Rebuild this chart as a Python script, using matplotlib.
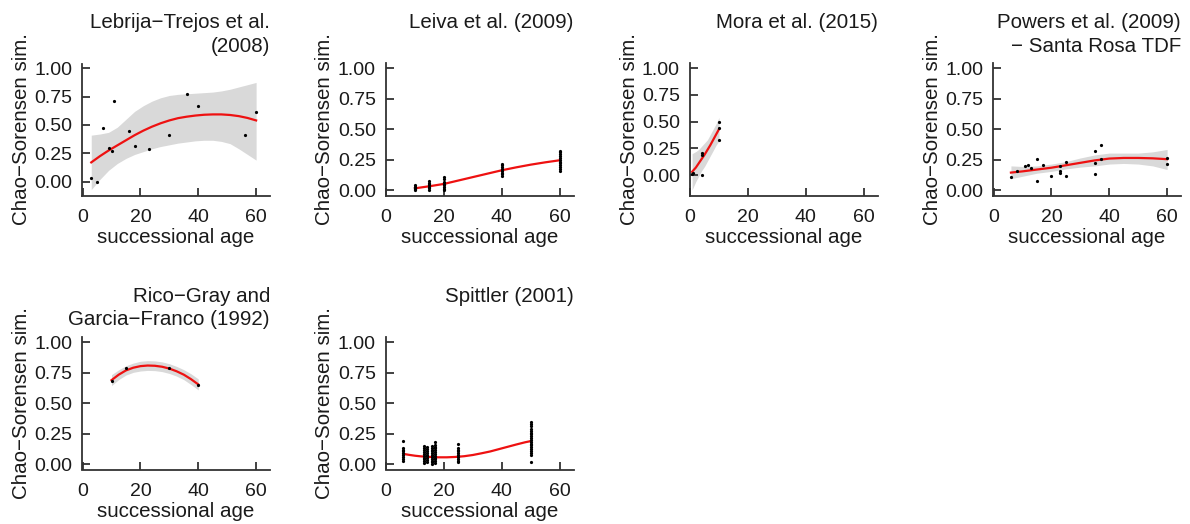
"""
Chao-Sorensen similarity vs successional age, one panel per study.
"""
import matplotlib
matplotlib.use("Agg")
import matplotlib.pyplot as plt

plt.rcParams['font.family'] = ['Liberation Sans', 'DejaVu Sans']

# ---- data ------------------------------------------------------------------
# Lebrija-Trejos et al. (2008)
lebrija_age = [3, 5, 7, 9, 10, 11, 16, 18, 23, 30, 36, 40, 56, 60]
lebrija_sim = [0.03, 0.0, 0.47, 0.30, 0.27, 0.71, 0.445, 0.315, 0.285,
               0.41, 0.775, 0.665, 0.41, 0.615]
lebrija_fit_x = [3, 6, 9, 12, 15, 18, 21, 24, 27, 30, 33, 36, 39, 42, 45,
                 48, 51, 54, 57, 60]
lebrija_fit = [0.17, 0.225, 0.275, 0.32, 0.365, 0.41, 0.45, 0.485, 0.515,
               0.54, 0.56, 0.573, 0.583, 0.59, 0.593, 0.593, 0.588, 0.578,
               0.562, 0.54]
lebrija_hi = [0.41, 0.42, 0.435, 0.48, 0.55, 0.62, 0.67, 0.71, 0.74, 0.76,
              0.77, 0.775, 0.78, 0.785, 0.79, 0.80, 0.815, 0.835, 0.855, 0.875]
lebrija_lo = [-0.07, 0.02, 0.10, 0.16, 0.205, 0.24, 0.265, 0.29, 0.31, 0.325,
              0.34, 0.35, 0.36, 0.365, 0.365, 0.355, 0.335, 0.29, 0.24, 0.19]

# Leiva et al. (2009): one column of values per age
leiva_ages = [10, 15, 20, 40, 60]
leiva_sims = [
    [0.0, 0.01, 0.015, 0.02, 0.025, 0.03, 0.04],
    [0.0, 0.015, 0.03, 0.04, 0.05, 0.06, 0.075],
    [0.0, 0.01, 0.025, 0.04, 0.055, 0.07, 0.09, 0.11],
    [0.115, 0.13, 0.145, 0.16, 0.175, 0.19, 0.205, 0.215],
    [0.16, 0.175, 0.19, 0.205, 0.22, 0.235, 0.25, 0.265, 0.28, 0.295, 0.31, 0.32],
]
leiva_fit_x = [10, 15, 20, 25, 30, 35, 40, 45, 50, 55, 60]
leiva_fit = [0.016, 0.033, 0.052, 0.08, 0.108, 0.136, 0.164, 0.188, 0.21,
             0.229, 0.246]

# Mora et al. (2015)
mora_age = [0.7, 1.0, 4, 4, 4, 10, 10, 10]
mora_sim = [0.01, 0.02, 0.0, 0.19, 0.21, 0.33, 0.44, 0.50]
mora_fit_x = [0.7, 2, 3, 4, 5, 6, 7, 8, 9, 10]
mora_fit = [0.03, 0.07, 0.11, 0.15, 0.19, 0.235, 0.28, 0.33, 0.38, 0.43]
mora_hi = [0.20, 0.22, 0.24, 0.27, 0.30, 0.33, 0.38, 0.43, 0.48, 0.54]
mora_lo = [-0.14, -0.06, -0.01, 0.04, 0.08, 0.13, 0.18, 0.23, 0.28, 0.32]

# Powers et al. (2009) - Santa Rosa TDF
powers_age = [6, 8, 11, 12, 13, 15, 15, 17, 20, 23, 23, 23, 25, 25,
              35, 35, 35, 37, 37, 60, 60]
powers_sim = [0.11, 0.16, 0.195, 0.205, 0.18, 0.26, 0.08, 0.21, 0.12, 0.2,
              0.16, 0.145, 0.235, 0.12, 0.325, 0.225, 0.135, 0.37, 0.26,
              0.265, 0.215]
powers_fit_x = [6, 10, 15, 20, 25, 30, 35, 40, 45, 50, 55, 60]
powers_fit = [0.145, 0.155, 0.17, 0.185, 0.205, 0.225, 0.245, 0.26, 0.265,
              0.265, 0.262, 0.255]
powers_hi = [0.20, 0.195, 0.20, 0.215, 0.235, 0.265, 0.29, 0.305, 0.305,
             0.305, 0.315, 0.335]
powers_lo = [0.095, 0.115, 0.14, 0.155, 0.175, 0.19, 0.20, 0.215, 0.22,
             0.215, 0.20, 0.17]

# Rico-Gray and Garcia-Franco (1992)
rico_age = [10, 15, 30, 40]
rico_sim = [0.685, 0.786, 0.786, 0.652]
rico_fit_x = [10, 12.5, 15, 17.5, 20, 22.5, 25, 27.5, 30, 32.5, 35, 37.5, 40]
rico_fit = [0.69, 0.735, 0.77, 0.792, 0.805, 0.81, 0.808, 0.80, 0.785,
            0.763, 0.735, 0.698, 0.655]
rico_hi = [0.735, 0.775, 0.808, 0.83, 0.845, 0.85, 0.848, 0.84, 0.825,
           0.803, 0.776, 0.742, 0.70]
rico_lo = [0.645, 0.695, 0.732, 0.754, 0.765, 0.77, 0.768, 0.76, 0.745,
           0.723, 0.694, 0.654, 0.61]

# Spittler (2001): one column of values per age
spittler_ages = [6, 13, 14, 16, 17, 25, 50]
spittler_sims = [
    [0.03, 0.045, 0.06, 0.075, 0.09, 0.105, 0.12, 0.13, 0.19],
    [0.01, 0.025, 0.04, 0.055, 0.07, 0.085, 0.10, 0.115, 0.13, 0.15],
    [0.02, 0.035, 0.05, 0.065, 0.08, 0.095, 0.11, 0.125, 0.14],
    [0.0, 0.015, 0.03, 0.045, 0.06, 0.075, 0.09, 0.105, 0.12, 0.135, 0.15],
    [0.01, 0.025, 0.04, 0.055, 0.07, 0.085, 0.10, 0.115, 0.13, 0.145, 0.16, 0.18],
    [0.015, 0.03, 0.045, 0.06, 0.075, 0.09, 0.105, 0.12, 0.135, 0.165],
    [0.02, 0.08, 0.095, 0.11, 0.125, 0.14, 0.155, 0.17, 0.185, 0.20, 0.215,
     0.23, 0.245, 0.26, 0.275, 0.29, 0.31, 0.33, 0.35],
]
spittler_fit_x = [6, 8, 10, 12, 15, 18, 21, 24, 27, 30, 33, 36, 39, 42, 45,
                  48, 50]
spittler_fit = [0.085, 0.077, 0.07, 0.065, 0.06, 0.057, 0.057, 0.06, 0.066,
                0.076, 0.09, 0.105, 0.124, 0.143, 0.162, 0.18, 0.19]

# ---- layout (pixels) --------------------------------------------------------
W, H = 1190, 524
COL_LEFT = [82, 385.5, 689.5, 993]
ROW_TOP = [63.5, 337.5]
TITLE_BASE = [28.3, 301.5]
AX_W, AX_H = 188, 132
FS = 14.8
TICK_FS = 14
INK = '#1a1a1a'
BAND = '#d9d9d9'

fig = plt.figure(figsize=(W / 100, H / 100), dpi=100)


def expand(ages, sims):
    """Turn per-age columns into flat x, y lists."""
    xs, ys = [], []
    for age, vals in zip(ages, sims):
        xs += [age] * len(vals)
        ys += vals
    return xs, ys


def panel(col, row, title, ylim, px, py, fx, fy, lo=None, hi=None):
    left, top = COL_LEFT[col], ROW_TOP[row]
    ax = fig.add_axes([left / W, 1 - (top + AX_H) / H, AX_W / W, AX_H / H])

    if lo is not None:
        ax.fill_between(fx, lo, hi, color=BAND, lw=0, zorder=1)
    ax.plot(fx, fy, color='#ee1111', lw=1.6, zorder=2, solid_joinstyle='round')
    ax.plot(px, py, 'o', ms=2.3, mew=0, color='black', zorder=3)

    ax.set_xlim(-0.2, 64.8)
    ax.set_ylim(*ylim)
    ax.set_xticks([0, 20, 40, 60])
    ax.set_yticks([0, 0.25, 0.5, 0.75, 1.0])
    ax.set_yticklabels(['0.00', '0.25', '0.50', '0.75', '1.00'])
    for side in ('top', 'right'):
        ax.spines[side].set_visible(False)
    for side in ('left', 'bottom'):
        ax.spines[side].set_linewidth(1.3)
        ax.spines[side].set_color('#333333')
    ax.tick_params(axis='both', direction='in', length=6, width=1.3,
                   color='#333333', labelsize=TICK_FS, labelcolor=INK)
    ax.tick_params(axis='x', pad=10)
    ax.tick_params(axis='y', pad=7)
    ax.patch.set_visible(False)

    ax.text(0.5, -47.5 / AX_H, 'successional age', transform=ax.transAxes,
            ha='center', va='baseline', fontsize=FS, color=INK)
    ax.text(-55 / AX_W, 0.5, 'Chao\u2212Sorensen sim.', transform=ax.transAxes,
            rotation=90, rotation_mode='anchor', ha='center', va='baseline',
            fontsize=FS, color=INK)

    # right-aligned title, one text per line
    for k, line in enumerate(title):
        y_px = TITLE_BASE[row] + k * 23.5
        fig.text((left + AX_W) / W, 1 - y_px / H, line, ha='right',
                 va='baseline', fontsize=FS, color=INK)
    return ax


panel(0, 0, ['Lebrija\u2212Trejos et al.', '(2008)'], (-0.122, 1.042),
      lebrija_age, lebrija_sim, lebrija_fit_x, lebrija_fit, lebrija_lo, lebrija_hi)

lx, ly = expand(leiva_ages, leiva_sims)
panel(1, 0, ['Leiva et al. (2009)'], (-0.043, 1.04),
      lx, ly, leiva_fit_x, leiva_fit)

panel(2, 0, ['Mora et al. (2015)'], (-0.192, 1.045),
      mora_age, mora_sim, mora_fit_x, mora_fit, mora_lo, mora_hi)

panel(3, 0, ['Powers et al. (2009)', '\u2212 Santa Rosa TDF'], (-0.043, 1.04),
      powers_age, powers_sim, powers_fit_x, powers_fit, powers_lo, powers_hi)

panel(0, 1, ['Rico\u2212Gray and', 'Garcia\u2212Franco (1992)'], (-0.043, 1.04),
      rico_age, rico_sim, rico_fit_x, rico_fit, rico_lo, rico_hi)

sx, sy = expand(spittler_ages, spittler_sims)
panel(1, 1, ['Spittler (2001)'], (-0.043, 1.04),
      sx, sy, spittler_fit_x, spittler_fit)

fig.savefig('out.png', dpi=100)
